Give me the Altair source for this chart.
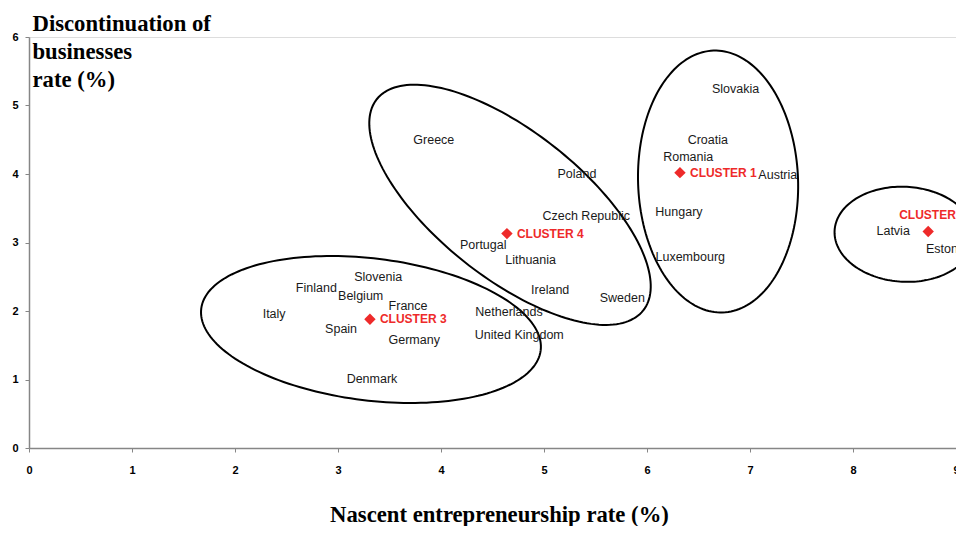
import numpy as np
import pandas as pd
import altair as alt

# ---------------- data ----------------
countries = ["Greece", "Poland", "Czech Republic", "Portugal", "Lithuania", "Ireland",
             "Sweden", "Netherlands", "United Kingdom", "Slovenia", "Finland", "Belgium",
             "France", "Italy", "Spain", "Germany", "Denmark", "Slovakia", "Croatia",
             "Romania", "Austria", "Hungary", "Luxembourg", "Latvia", "Estonia"]
nascent = [3.93, 5.32, 5.41, 4.41, 4.87, 5.06, 5.76, 4.66, 4.76, 3.39, 2.79, 3.22,
           3.68, 2.38, 3.03, 3.74, 3.33, 6.86, 6.59, 6.40, 7.27, 6.31, 6.42, 8.39, 8.91]
discont = [4.49, 4.00, 3.39, 2.96, 2.75, 2.30, 2.19, 1.99, 1.65, 2.49, 2.34, 2.22,
           2.08, 1.95, 1.74, 1.58, 1.01, 5.24, 4.50, 4.25, 3.99, 3.44, 2.79, 3.17, 2.91]

clusters = ["CLUSTER 1", "CLUSTER 2", "CLUSTER 3", "CLUSTER 4"]
cluster_x = [6.32, 8.73, 3.31, 4.64]
cluster_y = [4.02, 3.16, 1.88, 3.13]

# ellipse outlines around the clusters (centre in data units, semi-axes in px, tilt in deg)
ell_names = ["CLUSTER 1", "CLUSTER 2", "CLUSTER 3", "CLUSTER 4"]
ell_cx = [6.69, 8.50, 3.32, 4.67]
ell_cy = [3.89, 3.12, 1.73, 3.55]
ell_a = [131, 70, 171, 170]
ell_b = [80, 47.5, 71, 73]
ell_tilt = [88, 3, 7, 38.4]

x_ticks = list(range(0, 10))
y_ticks = list(range(0, 7))

# ---------------- layout ----------------
W, H = 927, 411
XMAX, YMAX = 9, 6
px_x = W / XMAX
px_y = H / YMAX

RED = "#ee2a2a"

df = pd.DataFrame({"country": countries, "x": nascent, "y": discont})
dc = pd.DataFrame({"cluster": clusters, "x": cluster_x, "y": cluster_y})

rows = []
ts = np.linspace(0, 2 * np.pi, 181)
for name, cx, cy, a, b, th in zip(ell_names, ell_cx, ell_cy, ell_a, ell_b, ell_tilt):
    r = np.deg2rad(th)
    for i, t in enumerate(ts):
        u, v = a * np.cos(t), b * np.sin(t)
        dxp = u * np.cos(r) - v * np.sin(r)
        dyp = u * np.sin(r) + v * np.cos(r)
        rows.append({"ell": name, "i": i, "x": cx + dxp / px_x, "y": cy - dyp / px_y})
de = pd.DataFrame(rows)

xscale = alt.Scale(domain=[0, XMAX], nice=False, zero=True)
yscale = alt.Scale(domain=[0, YMAX], nice=False, zero=True)

xaxis = alt.Axis(values=x_ticks, format="d", title="Nascent entrepreneurship rate (%)",
                 grid=False, labelFont="Liberation Sans", labelFontSize=11,
                 labelFontWeight="bold", labelColor="black", labelPadding=12, labelFlush=False,
                 tickSize=4, tickColor="#868686", domainColor="#868686", domainWidth=1.5,
                 titleFont="Liberation Serif", titleFontSize=22.7, titleFontWeight="bold",
                 titleColor="black", titleX=470, titleY=73, titleAlign="center",
                 titleBaseline="alphabetic", titleAnchor="middle")
yaxis = alt.Axis(values=y_ticks, format="d",
                 title=["Discontinuation of", "businesses", "rate (%)"],
                 grid=False, labelFont="Liberation Sans", labelFontSize=11,
                 labelFontWeight="bold", labelColor="black", labelPadding=7, labelFlush=False,
                 tickSize=4, tickColor="#868686", domainColor="#868686", domainWidth=1.5,
                 titleFont="Liberation Serif", titleFontSize=22.7, titleFontWeight="bold",
                 titleColor="black", titleAngle=0, titleAlign="left",
                 titleBaseline="alphabetic", titleX=3, titleY=-7, titleLineHeight=28,
                 titleAnchor="start")

base_axes = alt.Chart(df).mark_text(opacity=0).encode(
    x=alt.X("x:Q", scale=xscale, axis=xaxis),
    y=alt.Y("y:Q", scale=yscale, axis=yaxis),
)

ellipses = alt.Chart(de).mark_line(color="black", strokeWidth=2, interpolate="linear").encode(
    x=alt.X("x:Q", scale=xscale),
    y=alt.Y("y:Q", scale=yscale),
    detail="ell:N",
    order="i:Q",
)

labels = alt.Chart(df).mark_text(font="Liberation Sans", fontSize=12.5, color="#1a1a1a",
                                 align="center", baseline="middle").encode(
    x=alt.X("x:Q", scale=xscale),
    y=alt.Y("y:Q", scale=yscale),
    text="country:N",
)

diamonds = alt.Chart(dc).mark_point(shape="diamond", filled=True, size=130, color=RED,
                                    opacity=1).encode(
    x=alt.X("x:Q", scale=xscale),
    y=alt.Y("y:Q", scale=yscale),
)

clabels_right = alt.Chart(dc).transform_filter(alt.datum.cluster != "CLUSTER 2").mark_text(
    font="Liberation Sans", fontSize=12, fontWeight="bold", color=RED,
    align="left", baseline="middle", dx=10).encode(
    x=alt.X("x:Q", scale=xscale),
    y=alt.Y("y:Q", scale=yscale),
    text="cluster:N",
)

clabels_top = alt.Chart(dc).transform_filter(alt.datum.cluster == "CLUSTER 2").mark_text(
    font="Liberation Sans", fontSize=12, fontWeight="bold", color=RED,
    align="left", baseline="middle", dx=-29, dy=-17).encode(
    x=alt.X("x:Q", scale=xscale),
    y=alt.Y("y:Q", scale=yscale),
    text="cluster:N",
)

chart = alt.layer(base_axes, ellipses, labels, diamonds, clabels_right, clabels_top).properties(
    width=W, height=H,
    autosize=alt.AutoSizeParams(type="none"),
    padding={"left": 21, "top": 29, "right": 0, "bottom": 78},
).configure_view(stroke=None).configure(background="white")

chart.save("out.html", embed_options={"renderer": "svg", "actions": False})
